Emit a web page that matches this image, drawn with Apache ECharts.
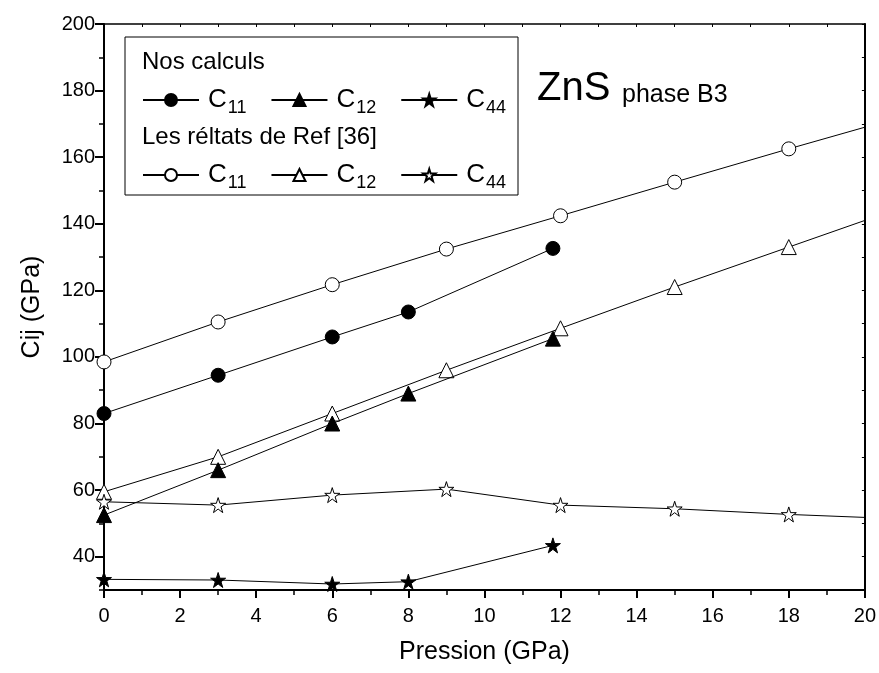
<!DOCTYPE html>
<html>
<head>
<meta charset="utf-8">
<title>ZnS phase B3</title>
<script src="https://cdn.jsdelivr.net/npm/echarts@6/dist/echarts.min.js"></script>
<style>
  html, body { margin: 0; padding: 0; background: #fff; }
  #chart { width: 879px; height: 673px; }
</style>
</head>
<body>
<div id="chart"></div>
<script>
// Nos calculs
const calcC11 = [[0, 83], [3, 94.5], [6, 106], [8, 113.5], [11.8, 132.6]];
const calcC12 = [[0, 52.5], [3, 66], [6, 80], [8, 89], [11.8, 105.5]];
const calcC44 = [[0, 33.2], [3, 33], [6, 31.8], [8, 32.5], [11.8, 43.4]];

// Les réltats de Ref [36] (le dernier point, à 20 GPa, est sur le bord)
const refC11 = [[0, 98.5], [3, 110.5], [6, 121.7], [9, 132.4], [12, 142.4], [15, 152.5], [18, 162.5], [20, 169]];
const refC12 = [[0, 59.5], [3, 70], [6, 83], [9, 96], [12, 108.6], [15, 121], [18, 133], [20, 141]];
const refC44 = [[0, 56.5], [3, 55.5], [6, 58.5], [9, 60.3], [12, 55.5], [15, 54.4], [18, 52.7], [20, 51.8]];

const xTicks = [0, 2, 4, 6, 8, 10, 12, 14, 16, 18, 20];
const yTicks = [40, 60, 80, 100, 120, 140, 160, 180, 200];

const STAR = 'path://M50,0 L61.2,34.5 L97.6,34.5 L68.2,55.9 L79.4,90.5 L50,69.1 L20.6,90.5 L31.8,55.9 L2.4,34.5 L38.8,34.5 Z';
const FONT = 'Liberation Sans, Arial, sans-serif';

const chart = echarts.init(document.getElementById('chart'));

function withEdge(data) {
  // le point sur le bord droit n'a pas de symbole visible
  return data.map(p => p[0] === 20 ? { value: p, symbol: 'none' } : p);
}

function mkSeries(name, data, symbol, filled, size) {
  return {
    name: name,
    type: 'line',
    data: withEdge(data),
    symbol: symbol,
    symbolSize: size,
    showSymbol: true,
    lineStyle: { color: '#000', width: 1 },
    itemStyle: { color: filled ? '#000' : '#fff', borderColor: '#000', borderWidth: 1 },
    emphasis: { disabled: true },
    z: filled ? 3 : 2
  };
}

const legendText = {
  fontFamily: FONT,
  fontSize: 26,
  color: '#000',
  padding: [0, 0, 0, 4],
  rich: {
    c: { fontSize: 26, fontFamily: FONT, color: '#000' },
    sub: { fontSize: 18, fontFamily: FONT, color: '#000', verticalAlign: 'bottom', padding: [16, 0, 0, 1] }
  }
};
const fmt = name => '{c|C}{sub|' + name.split('_')[1] + '}';

chart.setOption({
  backgroundColor: '#fff',
  animation: false,
  textStyle: { fontFamily: FONT },
  grid: { left: 104, right: 14, top: 24, bottom: 83 },
  legend: [
    {
      data: ['calc_11', 'calc_12', 'calc_44'],
      left: 142, top: 87, padding: 0,
      itemWidth: 56, itemHeight: 15, itemGap: 24,
      formatter: fmt, textStyle: legendText, selectedMode: false
    },
    {
      data: ['ref_11', 'ref_12', 'ref_44'],
      left: 142, top: 162, padding: 0,
      itemWidth: 56, itemHeight: 15, itemGap: 24,
      formatter: fmt, textStyle: legendText, selectedMode: false
    }
  ],
  graphic: [
    { type: 'rect', shape: { x: 125, y: 37, width: 393, height: 158 },
      style: { fill: '#fff', stroke: '#000', lineWidth: 1 }, z: 0 },
    { type: 'text', left: 142, top: 50,
      style: { text: 'Nos calculs', fontSize: 24, fontFamily: FONT, fill: '#000' }, z: 5 },
    { type: 'text', left: 142, top: 125,
      style: { text: 'Les réltats de Ref [36]', fontSize: 24, fontFamily: FONT, fill: '#000' }, z: 5 },
    { type: 'text', left: 537, top: 69,
      style: { text: 'ZnS', fontSize: 40, fontFamily: FONT, fill: '#000' }, z: 5 },
    { type: 'text', left: 622, top: 83,
      style: { text: 'phase B3', fontSize: 25, fontFamily: FONT, fill: '#000' }, z: 5 }
  ],
  xAxis: [
    {
      type: 'value', min: 0, max: 20, interval: 2,
      name: 'Pression (GPa)', nameLocation: 'middle', nameGap: 50,
      nameTextStyle: { fontSize: 25, color: '#000', fontFamily: FONT, verticalAlign: 'top' },
      axisLine: { onZero: false, lineStyle: { color: '#000', width: 2 } },
      axisTick: { show: true, inside: false, length: 8, lineStyle: { color: '#000', width: 2 } },
      minorTick: { show: true, splitNumber: 2, length: 5, lineStyle: { color: '#000', width: 1.5 } },
      axisLabel: { color: '#000', fontSize: 20, margin: 16, fontFamily: FONT, customValues: xTicks },
      splitLine: { show: false }
    },
    {
      type: 'value', min: 0, max: 20, interval: 1, position: 'top',
      axisLine: { onZero: false, lineStyle: { color: '#000', width: 1.5 } },
      axisTick: { show: true, inside: true, length: 3, lineStyle: { color: '#000', width: 1 } },
      axisLabel: { show: false },
      splitLine: { show: false }
    }
  ],
  yAxis: [
    {
      type: 'value', min: 30, max: 200, interval: 10,
      name: 'Cij (GPa)', nameLocation: 'middle', nameGap: 59,
      nameTextStyle: { fontSize: 25, color: '#000', fontFamily: FONT },
      axisLine: { onZero: false, lineStyle: { color: '#000', width: 2 } },
      axisTick: { show: true, inside: false, length: 5, lineStyle: { color: '#000', width: 1.5 } },
      axisLabel: { color: '#000', fontSize: 20, margin: 9, fontFamily: FONT, customValues: yTicks },
      splitLine: { show: false }
    },
    {
      type: 'value', min: 30, max: 200, interval: 10, position: 'left',
      axisLine: { show: false },
      axisTick: { show: true, inside: false, length: 9, customValues: yTicks, lineStyle: { color: '#000', width: 2 } },
      axisLabel: { show: false },
      splitLine: { show: false }
    },
    {
      type: 'value', min: 30, max: 200, interval: 10, position: 'right',
      axisLine: { onZero: false, lineStyle: { color: '#000', width: 2 } },
      axisTick: { show: true, inside: true, length: 3, lineStyle: { color: '#000', width: 1 } },
      axisLabel: { show: false },
      splitLine: { show: false }
    }
  ],
  series: [
    mkSeries('ref_11', refC11, 'circle', false, 14),
    mkSeries('ref_12', refC12, 'triangle', false, 15),
    mkSeries('ref_44', refC44, STAR, false, 15),
    mkSeries('calc_11', calcC11, 'circle', true, 14),
    mkSeries('calc_12', calcC12, 'triangle', true, 15),
    mkSeries('calc_44', calcC44, STAR, true, 15)
  ]
});
</script>
</body>
</html>
